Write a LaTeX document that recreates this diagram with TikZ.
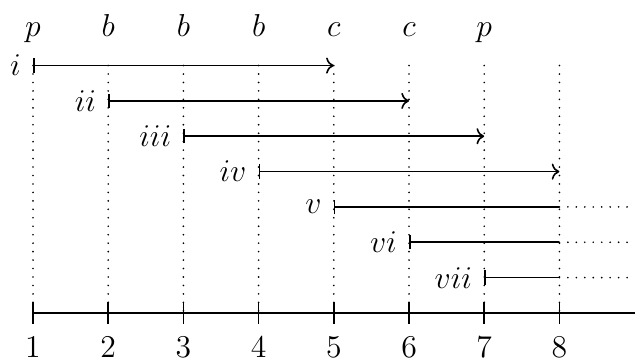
\documentclass[tikz,border=0pt]{standalone}
\usepackage{tikz}
\usetikzlibrary{arrows.meta}

\begin{document}
\begin{tikzpicture}[y=0.47cm,font=\large,semithick,
  lbl/.style={anchor=base,inner sep=0pt},
  guide/.style={line width=0.7pt,line cap=round,dash pattern=on 0pt off 3.2pt},
  span/.style={|->},
  openspan/.style={|-}]
\useasboundingbox (0.561,-1.33) rectangle (9.005,8.855);
% ---------- axis, ticks and dotted guides ----------
\foreach \x in {1,...,8} {
  \coordinate (a\x) at (\x,0);
  \coordinate (g\x) at (\x,7);
  \node[lbl] (n\x) at (\x,-1.26) {\x};
  \draw[guide] (g\x) -- (a\x);
  \draw (a\x) ++(0,0.3) -- ++(0,-0.6);
}
\coordinate (aend) at (9.005,0);
\draw (a1) -- (aend);
% ---------- letters on top ----------
\foreach \x/\t in {1/p,2/b,3/b,4/b,5/c,6/c,7/p}
  \node[lbl] (t\x) at (\x,7.83) {$\t$};
% ---------- closed spans ----------
\foreach \k/\r in {1/i,2/ii,3/iii,4/iv} {
  \pgfmathtruncatemacro\y{8-\k}
  \pgfmathtruncatemacro\e{\k+4}
  \coordinate (s\k) at (\k,\y);
  \coordinate (e\k) at (\e,\y);
  \node[left=1pt] (r\k) at (s\k) {$\r$};
  \draw[span] (s\k) -- (e\k);
}
% ---------- open spans ----------
\foreach \k/\r in {5/v,6/vi,7/vii} {
  \pgfmathtruncatemacro\y{8-\k}
  \coordinate (s\k) at (\k,\y);
  \coordinate (e\k) at (8,\y);
  \coordinate (f\k) at (9.005,\y);
  \node[left=1pt] (r\k) at (s\k) {$\r$};
  \draw[openspan] (s\k) -- (e\k);
  \draw[guide] (e\k) -- (f\k);
}
\end{tikzpicture}
\end{document}
